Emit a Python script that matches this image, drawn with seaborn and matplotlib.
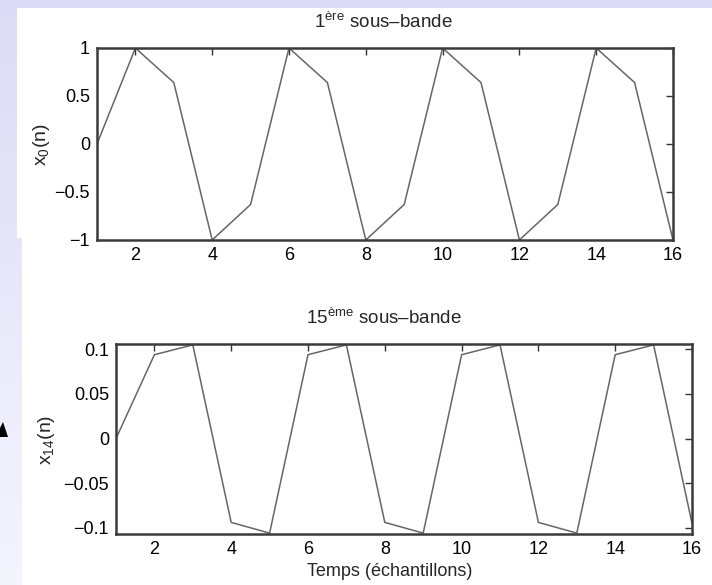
import numpy as np
import pandas as pd
import seaborn as sns
import matplotlib.pyplot as plt
from matplotlib.patches import Rectangle, Polygon
from matplotlib.ticker import FuncFormatter

# sample index and the two subband signals
n = list(range(1, 17))
x0 = [0, 1, 0.64, -1, -0.63, 1, 0.64, -1, -0.63, 1, 0.64, -1, -0.63, 1, 0.64, -1]
x14 = [0, 0.094, 0.105, -0.094, -0.106, 0.094, 0.105, -0.094, -0.106,
       0.094, 0.105, -0.094, -0.106, 0.094, 0.105, -0.095]
xticks = [2, 4, 6, 8, 10, 12, 14, 16]
yticks_top = [-1, -0.5, 0, 0.5, 1]
yticks_bot = [-0.1, -0.05, 0, 0.05, 0.1]

sns.set_style('white')
plt.rcParams['font.family'] = ['Liberation Sans', 'DejaVu Sans']
plt.rcParams['mathtext.fontset'] = 'custom'
plt.rcParams['mathtext.rm'] = 'Liberation Sans'
plt.rcParams['mathtext.it'] = 'Liberation Sans:italic'

W, H = 712, 585
fig = plt.figure(figsize=(W / 100, H / 100), dpi=100)

# slide background: lavender gradient with white panel
bg = fig.add_axes([0, 0, 1, 1], zorder=-5)
grad = np.linspace(0, 1, 256)[:, None]
c_top = np.array([0.86, 0.86, 0.97])
c_bot = np.array([0.96, 0.96, 0.995])
img = c_top[None, None, :] * (1 - grad[..., None]) + c_bot[None, None, :] * grad[..., None]
img = np.repeat(img, 2, axis=1)
bg.imshow(img, extent=[0, W, H, 0], aspect='auto')
bg.add_patch(Rectangle((17, 8), W - 17, 230, color='white', lw=0))
bg.add_patch(Rectangle((22, 233), W - 22, H - 233, color='white', lw=0))
bg.add_patch(Polygon([(0, 437), (8, 437), (3, 422), (0, 428)], color='black', lw=0))
bg.set_xlim(0, W)
bg.set_ylim(H, 0)
bg.axis('off')


def fmt(v, p):
    return ('%g' % v).replace('-', '\u2212')


def px_axes(left, top, right, bottom):
    return fig.add_axes([left / W, 1 - bottom / H, (right - left) / W, (bottom - top) / H])


ax1 = px_axes(97, 48, 673, 240)
ax2 = px_axes(116, 344, 692, 534)

df1 = pd.DataFrame({'n': n, 'x': x0})
df2 = pd.DataFrame({'n': n, 'x': x14})
sns.lineplot(data=df1, x='n', y='x', ax=ax1, color='#666666', lw=1.1)
sns.lineplot(data=df2, x='n', y='x', ax=ax2, color='#666666', lw=1.1)

for ax, yt, yl in [(ax1, yticks_top, (-1, 1)), (ax2, yticks_bot, (-0.107, 0.106))]:
    ax.set_xlim(1, 16)
    ax.set_ylim(*yl)
    ax.set_xticks(xticks)
    ax.set_yticks(yt)
    ax.yaxis.set_major_formatter(FuncFormatter(fmt))
    ax.set_xlabel('')
    ax.set_ylabel('')
    ax.tick_params(direction='in', top=True, right=True, length=5, width=1,
                   color='#333333', labelsize=13, labelcolor='black', pad=5)
    for s in ax.spines.values():
        s.set_visible(True)
        s.set_color('#3a3a3a')
        s.set_linewidth(1.8)
    ax.set_facecolor('white')

fig.text(383 / W, 1 - 22 / H, '1$^{\\rm ère}$ sous\u2013bande', ha='center', va='center', fontsize=13.5)
fig.text(384 / W, 1 - 318 / H, '15$^{\\rm ème}$ sous\u2013bande', ha='center', va='center', fontsize=13.5)
fig.text(390 / W, 1 - 572 / H, 'Temps (échantillons)', ha='center', va='center', fontsize=13)
fig.text(42 / W, 1 - 145 / H, 'x$_{\\rm 0}$(n)', rotation=90, ha='center', va='center', fontsize=14)
fig.text(46 / W, 1 - 440 / H, 'x$_{\\rm 14}$(n)', rotation=90, ha='center', va='center', fontsize=14)

fig.savefig('out.png', dpi=100)
